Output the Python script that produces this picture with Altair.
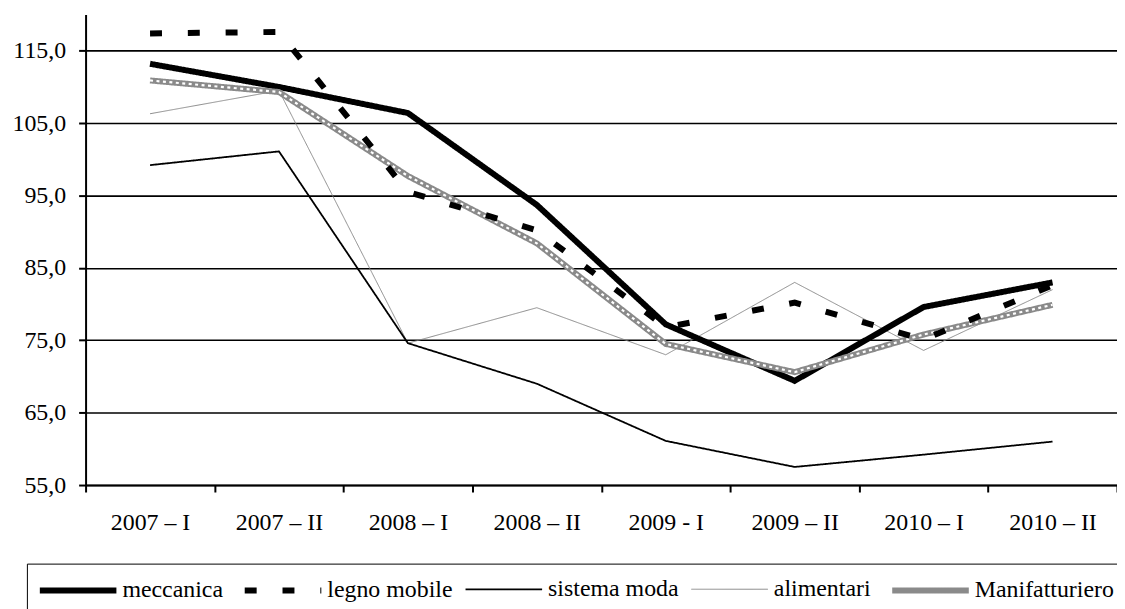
import altair as alt
import pandas as pd

categories = ["2007 – I", "2007 – II", "2008 – I", "2008 – II",
              "2009 - I", "2009 – II", "2010 – I", "2010 – II"]
series = ["meccanica", "legno mobile", "sistema moda", "alimentari", "Manifatturiero"]

meccanica = [113.2, 110.0, 106.4, 93.7, 77.2, 69.4, 79.6, 83.0]
legno_mobile = [117.4, 117.6, 95.5, 90.2, 76.8, 80.2, 75.1, 82.6]
sistema_moda = [99.2, 101.1, 74.6, 69.0, 61.1, 57.5, 59.2, 61.0]
alimentari = [106.3, 109.5, 74.6, 79.5, 73.0, 83.0, 73.6, 82.0]
manifatturiero = [110.9, 109.3, 97.7, 88.4, 74.5, 70.6, 75.8, 79.9]

values = {
    "meccanica": meccanica,
    "legno mobile": legno_mobile,
    "sistema moda": sistema_moda,
    "alimentari": alimentari,
    "Manifatturiero": manifatturiero,
}

# draw order: thin lines first, legno mobile last
draw_order = ["alimentari", "sistema moda", "meccanica", "Manifatturiero", "legno mobile"]
rows = []
for s in draw_order:
    for c, v in zip(categories, values[s]):
        rows.append({"periodo": c, "serie": s, "valore": v})
df = pd.DataFrame(rows)

colors = ["#000000", "#000000", "#000000", "#808080", "#8a8a8a"]
dashes = [[1, 0], [12, 26], [1, 0], [1, 0], [1, 0]]
widths = [6, 6, 1.8, 0.9, 6]

FONT = "Liberation Serif"

x_enc = alt.X("periodo:N", sort=categories, bandPosition=0.5,
              scale=alt.Scale(type="band", paddingInner=0, paddingOuter=0),
              axis=alt.Axis(title=None, labelAngle=0, tickBand="extent",
                            domainColor="black", domainWidth=2,
                            tickColor="black", tickWidth=2, tickSize=7,
                            labelPadding=19, labelFont=FONT, labelFontSize=24,
                            labelColor="black", grid=False))
y_enc = alt.Y("valore:Q",
              scale=alt.Scale(domain=[55, 120], nice=False, zero=False),
              axis=alt.Axis(title=None, values=[55, 65, 75, 85, 95, 105, 115],
                            labelExpr="replace(format(datum.value, '.1f'), '.', ',')",
                            domainColor="black", domainWidth=2,
                            tickColor="black", tickWidth=2, tickSize=7,
                            labelPadding=13, labelFont=FONT, labelFontSize=24,
                            labelColor="black", grid=True, gridColor="black",
                            gridWidth=1.6, gridOpacity=1))

legend = alt.Legend(title=None, orient="none", legendX=-59, legendY=552,
                    direction="horizontal", columns=5,
                    labelFont=FONT, labelFontSize=24)

color_enc = alt.Color("serie:N", scale=alt.Scale(type="ordinal", domain=series, range=colors), legend=legend)
dash_enc = alt.StrokeDash("serie:N", scale=alt.Scale(type="ordinal", domain=series, range=dashes), legend=legend)
width_enc = alt.StrokeWidth("serie:N", scale=alt.Scale(type="ordinal", domain=series, range=widths), legend=legend)

base = alt.Chart(df)

lines = base.transform_filter(alt.datum.serie != "legno mobile").mark_line(
    strokeCap="butt", strokeJoin="miter").encode(
    x=x_enc, y=y_enc, color=color_enc, strokeDash=dash_enc, strokeWidth=width_enc,
    detail="serie:N")

pattern = base.transform_filter(alt.datum.serie == "Manifatturiero").mark_line(
    strokeCap="butt", strokeJoin="miter", color="white", strokeWidth=2.2,
    strokeDash=[3, 3.5]).encode(x=x_enc, y=y_enc)

legno = base.transform_filter(alt.datum.serie == "legno mobile").mark_line(
    strokeCap="butt", strokeJoin="miter").encode(
    x=x_enc, y=y_enc, color=color_enc, strokeDash=dash_enc, strokeWidth=width_enc)

chart = alt.layer(lines, pattern, legno).properties(
    width=1037, height=473,
    padding={"left": 78, "top": 5, "right": 0, "bottom": 123},
    autosize=alt.AutoSizeParams(type="none"),
).configure(background="white", font=FONT).configure_view(stroke=None).configure_legend(
    symbolType="M-1,0L4.5,0", symbolSize=784,
    labelFont=FONT, labelFontSize=24, labelColor="black", labelLimit=400,
    labelOffset=52, columnPadding=9, padding=10,
    strokeColor="black", fillColor="white", cornerRadius=0,
)

chart.save("out.html", embed_options={"renderer": "svg", "actions": False})
